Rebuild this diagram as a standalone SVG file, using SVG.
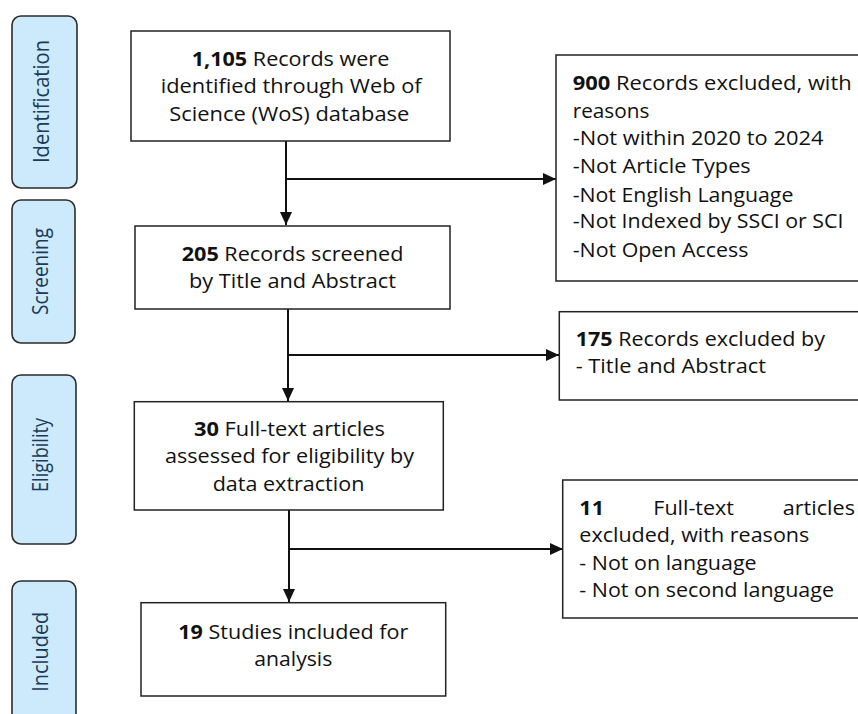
<svg xmlns="http://www.w3.org/2000/svg" width="858" height="714" viewBox="0 0 858 714">
<defs>
<style>
.phase rect{fill:#cdeafd;stroke:#2b2b2b;stroke-width:1.6}
.phase text{font-family:"Open Sans","Noto Sans",sans-serif;font-size:21px;fill:#1b3a58;text-anchor:middle}
.box rect{fill:#fff;stroke:#222;stroke-width:1.5}
.box text{font-family:"Open Sans","Noto Sans",sans-serif;font-size:20px;fill:#111}
.b{font-weight:bold}
.conn path{fill:none;stroke:#111;stroke-width:2}
</style>
<marker id="ah" markerUnits="userSpaceOnUse" markerWidth="14" markerHeight="14" refX="13" refY="7" orient="auto">
<path d="M0,1 L13,7 L0,13 z" fill="#111"/>
</marker>
</defs>
<rect width="858" height="714" fill="#fff"/>

<g id="phase-identification" class="phase">
<rect x="12" y="16" width="65" height="172" rx="9"/>
<text transform="translate(49,101.5) rotate(-90)" textLength="123" lengthAdjust="spacingAndGlyphs">Identification</text>
</g>
<g id="phase-screening" class="phase">
<rect x="12" y="200" width="63" height="143" rx="9"/>
<text transform="translate(48,271.5) rotate(-90)" textLength="87" lengthAdjust="spacingAndGlyphs">Screening</text>
</g>
<g id="phase-eligibility" class="phase">
<rect x="12" y="375" width="64" height="169" rx="9"/>
<text transform="translate(48,455) rotate(-90)" textLength="74" lengthAdjust="spacingAndGlyphs">Eligibility</text>
</g>
<g id="phase-included" class="phase">
<rect x="12" y="581" width="64" height="160" rx="9"/>
<text transform="translate(48,651.7) rotate(-90)" textLength="80" lengthAdjust="spacingAndGlyphs">Included</text>
</g>

<g id="connectors" class="conn">
<path d="M286,141 V225" marker-end="url(#ah)"/>
<path d="M286,179 H556" marker-end="url(#ah)"/>
<path d="M288,309 V401" marker-end="url(#ah)"/>
<path d="M288,355 H559" marker-end="url(#ah)"/>
<path d="M289,510 V602" marker-end="url(#ah)"/>
<path d="M289,549 H563" marker-end="url(#ah)"/>
</g>

<g id="identified" class="box">
<rect x="131" y="31" width="319" height="110"/>
<text x="191.7" y="65.7" textLength="197.6" lengthAdjust="spacingAndGlyphs"><tspan class="b">1,105</tspan> Records were</text>
<text x="160.7" y="93" textLength="261" lengthAdjust="spacingAndGlyphs">identified through Web of</text>
<text x="169.3" y="120.7" textLength="240" lengthAdjust="spacingAndGlyphs">Science (WoS) database</text>
</g>

<g id="screened" class="box">
<rect x="135" y="226" width="315" height="83"/>
<text x="181.7" y="260.7" textLength="221.7" lengthAdjust="spacingAndGlyphs"><tspan class="b">205</tspan> Records screened</text>
<text x="189" y="288" textLength="207" lengthAdjust="spacingAndGlyphs">by Title and Abstract</text>
</g>

<g id="eligibility" class="box">
<rect x="134.3" y="401.7" width="309" height="108.3"/>
<text x="194" y="435.7" textLength="191" lengthAdjust="spacingAndGlyphs"><tspan class="b">30</tspan> Full-text articles</text>
<text x="165" y="463.3" textLength="249" lengthAdjust="spacingAndGlyphs">assessed for eligibility by</text>
<text x="212.7" y="490.7" textLength="151.7" lengthAdjust="spacingAndGlyphs">data extraction</text>
</g>

<g id="included" class="box">
<rect x="141" y="602.7" width="304.7" height="93.3"/>
<text x="178.3" y="639" textLength="230" lengthAdjust="spacingAndGlyphs"><tspan class="b">19</tspan> Studies included for</text>
<text x="254.3" y="666" textLength="78" lengthAdjust="spacingAndGlyphs">analysis</text>
</g>

<g id="excluded-900" class="box">
<rect x="556" y="55" width="320" height="226"/>
<text x="572.7" y="90" textLength="279" lengthAdjust="spacingAndGlyphs"><tspan class="b">900</tspan> Records excluded, with</text>
<text x="572.7" y="118.3" textLength="76.7" lengthAdjust="spacingAndGlyphs">reasons</text>
<text x="572.7" y="145" textLength="250.7" lengthAdjust="spacingAndGlyphs">-Not within 2020 to 2024</text>
<text x="572.7" y="173.3" textLength="178" lengthAdjust="spacingAndGlyphs">-Not Article Types</text>
<text x="572.7" y="201.7" textLength="220.7" lengthAdjust="spacingAndGlyphs">-Not English Language</text>
<text x="572.7" y="228.3" textLength="270.7" lengthAdjust="spacingAndGlyphs">-Not Indexed by SSCI or SCI</text>
<text x="572.7" y="256.7" textLength="175.7" lengthAdjust="spacingAndGlyphs">-Not Open Access</text>
</g>

<g id="excluded-175" class="box">
<rect x="559.3" y="311.7" width="320" height="88.3"/>
<text x="575.7" y="346" textLength="249.3" lengthAdjust="spacingAndGlyphs"><tspan class="b">175</tspan> Records excluded by</text>
<text x="575.7" y="372.7" textLength="190.3" lengthAdjust="spacingAndGlyphs">- Title and Abstract</text>
</g>

<g id="excluded-11" class="box">
<rect x="562.7" y="480" width="320" height="138"/>
<text x="579.3" y="515" textLength="24.7" lengthAdjust="spacingAndGlyphs" class="b">11</text>
<text x="653.3" y="515" textLength="80.7" lengthAdjust="spacingAndGlyphs">Full-text</text>
<text x="782.7" y="515" textLength="72.3" lengthAdjust="spacingAndGlyphs">articles</text>
<text x="579.3" y="541.7" textLength="230" lengthAdjust="spacingAndGlyphs">excluded, with reasons</text>
<text x="579.3" y="570" textLength="177.3" lengthAdjust="spacingAndGlyphs">- Not on language</text>
<text x="579.3" y="596.7" textLength="254.7" lengthAdjust="spacingAndGlyphs">- Not on second language</text>
</g>
</svg>
